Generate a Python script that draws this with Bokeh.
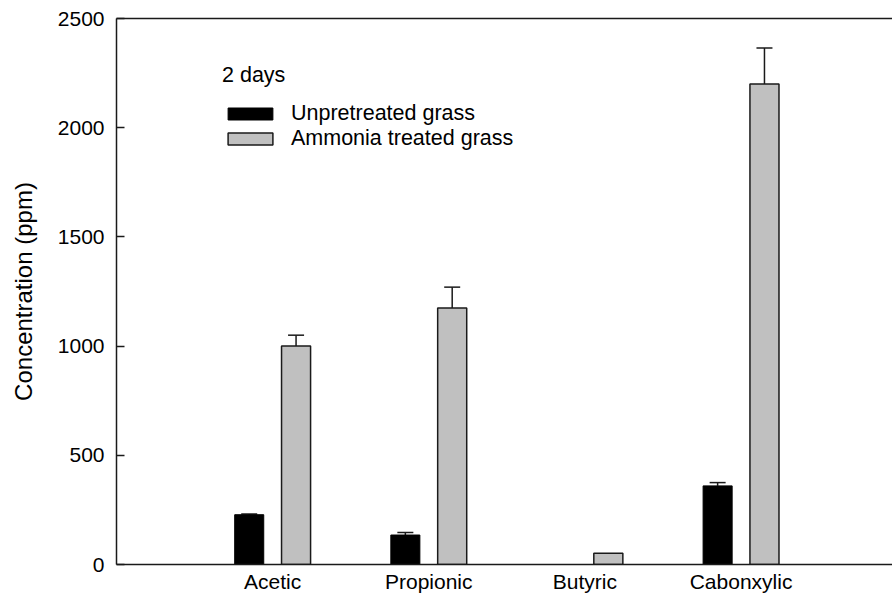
from bokeh.plotting import figure
from bokeh.models import (ColumnDataSource, Whisker, TeeHead, FixedTicker, Range1d,
                          LinearAxis, Legend, LegendItem)
from bokeh.transform import dodge
from bokeh.embed import file_html
from bokeh.resources import INLINE

categories = ["Acetic", "Propionic", "Butyric", "Cabonxylic"]
unpretreated = [228, 135, 0, 360]
unpretreated_err = [3, 12, 0, 15]
ammonia = [1000, 1175, 52, 2200]
ammonia_err = [50, 95, 0, 165]
y_ticks = [0, 500, 1000, 1500, 2000, 2500]
legend_title = "2 days"
series_names = ["Unpretreated grass", "Ammonia treated grass"]
y_title = "Concentration (ppm)"

FONT = "Liberation Sans"
pos = [i + 1 for i in range(len(categories))]
OFF = 0.15
BW = 0.186

src = ColumnDataSource(dict(pos=pos, unpre=unpretreated, amm=ammonia))

def err_source(values, errs, shift):
    xs, lo, hi = [], [], []
    for x, v, e in zip(pos, values, errs):
        if e > 0:
            xs.append(x + shift)
            lo.append(v)
            hi.append(v + e)
    return ColumnDataSource(dict(x=xs, lower=lo, upper=hi))

p = figure(width=892, height=598, x_range=Range1d(0, 4.97), y_range=Range1d(0, 2500),
           output_backend="svg", toolbar_location=None,
           min_border_left=116, min_border_right=0, min_border_top=18, min_border_bottom=34,
           background_fill_color="white", border_fill_color="white")
p.outline_line_color = None
p.grid.visible = False

r1 = p.vbar(x=dodge("pos", -OFF), top="unpre", width=BW, source=src,
            fill_color="black", line_color="black", line_width=1)
r2 = p.vbar(x=dodge("pos", OFF), top="amm", width=BW, source=src,
            fill_color="#c0c0c0", line_color="#1a1a1a", line_width=1.5)

for vals, errs, sh in [(unpretreated, unpretreated_err, -OFF), (ammonia, ammonia_err, OFF)]:
    es = err_source(vals, errs, sh)
    w = Whisker(base="x", lower="lower", upper="upper", source=es, dimension="height",
                line_color="#1a1a1a", line_width=1.5, lower_head=None,
                upper_head=TeeHead(size=16, line_color="#1a1a1a", line_width=1.5))
    p.add_layout(w)

# axes
xa = p.xaxis[0]
xa.ticker = FixedTicker(ticks=pos)
xa.major_label_overrides = {x: c for x, c in zip(pos, categories)}
xa.major_tick_out = 0
xa.major_tick_in = 0
xa.minor_tick_line_color = None
xa.axis_line_color = "#1a1a1a"
xa.axis_line_width = 1.5
xa.major_label_text_font = FONT
xa.major_label_text_font_size = "21px"
xa.major_label_text_color = "black"
xa.major_label_standoff = 5

ya = p.yaxis[0]
ya.ticker = FixedTicker(ticks=y_ticks)
ya.major_tick_out = 0
ya.major_tick_in = 8
ya.major_tick_line_color = "#1a1a1a"
ya.major_tick_line_width = 1.5
ya.minor_tick_line_color = None
ya.axis_line_color = "#1a1a1a"
ya.axis_line_width = 1.5
ya.major_label_text_font = FONT
ya.major_label_text_font_size = "21px"
ya.major_label_text_color = "black"
ya.major_label_standoff = 12
ya.axis_label = y_title
ya.axis_label_text_font = FONT
ya.axis_label_text_font_size = "24px"
ya.axis_label_text_font_style = "normal"
ya.axis_label_text_color = "black"
ya.axis_label_standoff = 18

top = LinearAxis(ticker=FixedTicker(ticks=[]), major_tick_out=0, major_tick_in=0,
                 minor_tick_line_color=None, major_label_text_font_size="0px",
                 major_label_standoff=0, axis_line_color="#1a1a1a", axis_line_width=1.5)
p.add_layout(top, "above")

legend = Legend(items=[LegendItem(label=series_names[0], renderers=[r1]),
                       LegendItem(label=series_names[1], renderers=[r2])],
                title=legend_title, location=(106, 413))
legend.title_text_font = FONT
legend.title_text_font_size = "21.5px"
legend.title_text_font_style = "normal"
legend.title_text_color = "black"
legend.title_standoff = 13
legend.label_text_font = FONT
legend.label_text_font_size = "21.5px"
legend.label_text_color = "black"
legend.glyph_width = 56
legend.glyph_height = 15
legend.label_standoff = 13
legend.spacing = 0
legend.padding = 0
legend.margin = 0
legend.border_line_color = None
legend.background_fill_alpha = 0
p.add_layout(legend)

open("out.html", "w").write(file_html(p, INLINE))
